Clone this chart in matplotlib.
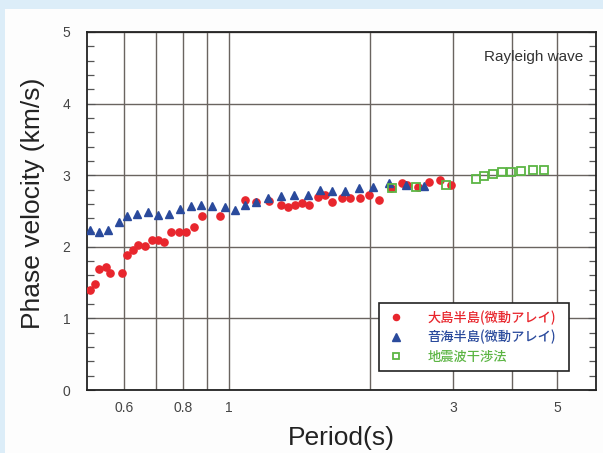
import matplotlib
matplotlib.use("Agg")
import matplotlib.pyplot as plt
from matplotlib.patches import Rectangle
from matplotlib.ticker import FixedLocator, MultipleLocator, NullLocator

plt.rcParams['font.family'] = ['Liberation Sans', 'Noto Sans CJK JP', 'DejaVu Sans']

# 大島半島(微動アレイ)
oshima_period = [0.508, 0.521, 0.530, 0.548, 0.559, 0.593, 0.607, 0.625, 0.643, 0.665,
                 0.687, 0.709, 0.730, 0.754, 0.786, 0.812, 0.846, 0.877, 0.957, 1.086,
                 1.146, 1.217, 1.296, 1.339, 1.384, 1.434, 1.485, 1.547, 1.604, 1.663,
                 1.741, 1.814, 1.905, 1.991, 2.091, 2.216, 2.339, 2.398, 2.526, 2.666,
                 2.814, 2.977]
oshima_vel = [1.40, 1.48, 1.69, 1.72, 1.64, 1.64, 1.89, 1.96, 2.03, 2.01,
              2.10, 2.09, 2.07, 2.21, 2.20, 2.20, 2.27, 2.43, 2.43, 2.65,
              2.63, 2.64, 2.59, 2.55, 2.59, 2.61, 2.59, 2.70, 2.72, 2.62,
              2.68, 2.68, 2.68, 2.73, 2.66, 2.82, 2.89, 2.86, 2.84, 2.90,
              2.93, 2.86]

# 音海半島(微動アレイ)
otomi_period = [0.507, 0.530, 0.555, 0.585, 0.609, 0.640, 0.673, 0.709, 0.748, 0.790,
                0.833, 0.874, 0.923, 0.984, 1.033, 1.086, 1.146, 1.213, 1.291, 1.379,
                1.477, 1.565, 1.658, 1.770, 1.896, 2.034, 2.190, 2.390, 2.611]
otomi_vel = [2.23, 2.21, 2.24, 2.34, 2.43, 2.46, 2.48, 2.44, 2.46, 2.53,
             2.57, 2.59, 2.57, 2.55, 2.52, 2.58, 2.63, 2.68, 2.71, 2.73,
             2.72, 2.79, 2.78, 2.78, 2.82, 2.84, 2.89, 2.86, 2.85]

# 地震波干渉法
interf_period = [2.226, 2.509, 2.90, 3.355, 3.494, 3.660, 3.813, 3.985, 4.186, 4.436, 4.695]
interf_vel = [2.82, 2.84, 2.86, 2.95, 2.99, 3.02, 3.04, 3.04, 3.06, 3.07, 3.07]

labels = ['大島半島(微動アレイ)', '音海半島(微動アレイ)', '地震波干渉法']
colors = ['#e8262d', '#2a4a9c', '#5cb544']

grid_x = [0.6, 0.7, 0.8, 0.9, 1, 2, 3, 4, 5]
xtick_labels = ['0.6', '', '0.8', '', '1', '', '3', '', '5']
yticks = [0, 1, 2, 3, 4, 5]

fig = plt.figure(figsize=(6.03, 4.53), dpi=100)
fig.patch.set_facecolor('#dcedf8')
fig.patches.append(Rectangle((5/603, 0), 1, 1 - 9/453, transform=fig.transFigure,
                             facecolor='#fdfdfd', edgecolor='none', zorder=-10))

ax = fig.add_axes([87/603, 1 - 390/453, (596-87)/603, (390-32)/453])
ax.set_xscale('log')
ax.set_xlim(0.5, 6.05)
ax.set_ylim(0, 5)

ax.xaxis.set_major_locator(FixedLocator(grid_x))
ax.xaxis.set_minor_locator(NullLocator())
ax.set_xticklabels(xtick_labels)
ax.set_yticks(yticks)
ax.yaxis.set_minor_locator(MultipleLocator(0.2))

ax.grid(True, which='major', color='#6a6460', linewidth=1.0)
ax.tick_params(axis='x', length=0, pad=8, labelsize=10, labelcolor='#444444')
ax.tick_params(axis='y', which='major', direction='in', length=6, right=True,
               pad=12, labelsize=10, labelcolor='#444444', color='#555555')
ax.tick_params(axis='y', which='minor', direction='in', length=5, right=True,
               color='#555555', width=0.9)
for s in ax.spines.values():
    s.set_linewidth(1.3)
    s.set_color('#222222')

ax.plot(oshima_period, oshima_vel, linestyle='none', marker='o', markersize=5.2,
        color=colors[0], label=labels[0], zorder=3)
ax.plot(otomi_period, otomi_vel, linestyle='none', marker='^', markersize=6,
        color=colors[1], label=labels[1], zorder=3)
ax.plot(interf_period, interf_vel, linestyle='none', marker='s', markersize=5.2,
        markerfacecolor='none', markeredgecolor=colors[2], markeredgewidth=1.3,
        label=labels[2], zorder=4)

ax.text(0.975, 0.93, 'Rayleigh wave', transform=ax.transAxes, ha='right', va='center',
        fontsize=11, color='#333333')

ax.set_xlabel('Period(s)', fontsize=19, color='#222222', labelpad=8)
ax.set_ylabel('Phase velocity (km/s)', fontsize=19, color='#222222')
ax.yaxis.set_label_coords(-0.082, 0.522)

leg = ax.legend(loc='lower left', bbox_to_anchor=(0.574, 0.053, 0.373, 0.193),
                mode='expand', fancybox=False, framealpha=1, edgecolor='#222222',
                prop={'family': ['Noto Sans CJK JP', 'DejaVu Sans'], 'size': 9.5,
                      'weight': 'medium'},
                markerscale=0.85, handlelength=1.5, handletextpad=1.6, borderpad=0.55,
                labelspacing=0.4, borderaxespad=0)
leg.get_frame().set_linewidth(1.2)
for t, c in zip(leg.get_texts(), colors):
    t.set_color(c)

fig.savefig('out.png', dpi=100, facecolor=fig.get_facecolor())
